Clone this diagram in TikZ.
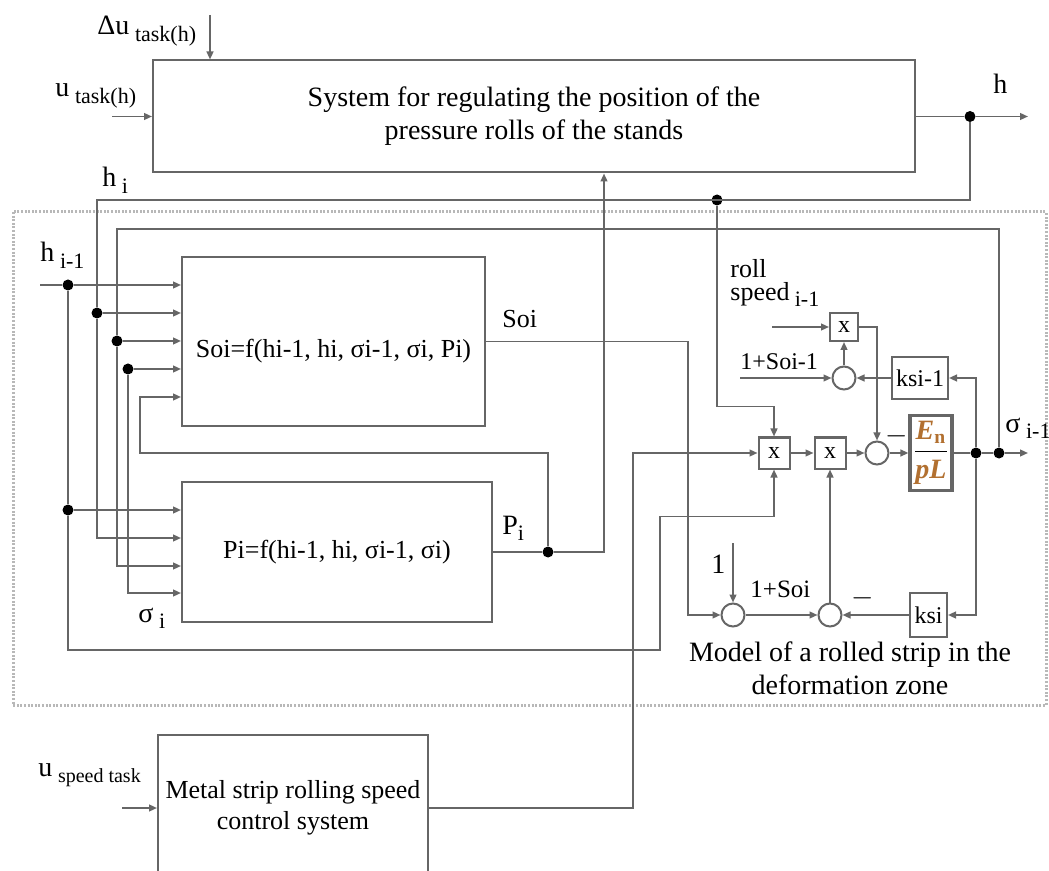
\documentclass[tikz,border=0pt]{standalone}
\usepackage{fontspec}
\setmainfont{Liberation Serif}
\usetikzlibrary{arrows.meta,positioning,calc}
\definecolor{linegray}{gray}{0.40}
\definecolor{framegray}{gray}{0.72}
\definecolor{enbrown}{RGB}{178,112,48}
\newcommand{\lowidx}[1]{\hspace{0.2em}\raisebox{-0.5ex}{\fontsize{11}{12}\selectfont #1}}

\begin{document}
\begin{tikzpicture}[
    x=0.5pt, y=-0.5pt,
    font=\fontsize{14}{16.5}\selectfont,
    line/.style={draw=linegray, line width=0.9pt},
    arrow/.style={line, -{Triangle[length=4pt,width=3.4pt]}},
    block/.style={rectangle, draw=linegray, line width=1pt, fill=white, align=center, inner sep=2pt},
    mult/.style={block, minimum size=15.5pt, inner sep=0pt, font=\fontsize{12}{12}\selectfont},
    gain/.style={block, inner sep=1pt, font=\fontsize{12}{12}\selectfont},
    summer/.style={circle, draw=linegray, line width=1pt, fill=white, minimum size=11.5pt, inner sep=0pt},
    junction/.style={circle, fill=black, minimum size=5.5pt, inner sep=0pt},
    lbl/.style={inner sep=0pt}
]
\useasboundingbox (0,0) rectangle (1049,871);

% Zone of the strip model
\draw[draw=framegray, line width=1.5pt, dash pattern=on 1pt off 0.8pt] (13,212) rectangle (1046,705);

% Blocks
\node[block, minimum width=381pt, minimum height=56pt] (sysh) at (534,116.5)
    {System for regulating the position of the\\pressure rolls of the stands};
\node[block, minimum width=151.5pt, minimum height=84.5pt, text height=19pt, text depth=3pt,
    font=\fontsize{13}{15}\selectfont] (soi) at (333.5,341.5) {Soi=f(hi-1, hi, σi-1, σi, Pi)};
\node[block, minimum width=155pt, minimum height=70pt,
    font=\fontsize{13}{15}\selectfont] (pi) at (337,552) {Pi=f(hi-1, hi, σi-1, σi)};
\node[block, minimum width=135pt, minimum height=73pt,
    font=\fontsize{13}{15.5}\selectfont] (speed) at (293,808) {Metal strip rolling speed\\control system};

% Strip model
\node[mult] (mulA) at (774,453) {x};
\node[mult] (mulB) at (830,453) {x};
\node[mult, minimum size=14pt] (mulC) at (844,327) {x};
\node[summer] (sumA) at (877,453) {};
\node[summer] (sumB) at (844,378) {};
\node[summer] (sumC) at (733,615) {};
\node[summer] (sumD) at (830,615) {};
\node[gain, minimum width=28pt, minimum height=21pt] (ksiA) at (920,378) {ksi-1};
\node[gain, minimum width=18.5pt, minimum height=22pt] (ksiB) at (928.5,615) {ksi};
\node[block, line width=1.6pt, minimum width=21pt, minimum height=37.5pt, inner sep=0pt] (enbox) at (931,453)
    {$\displaystyle\frac{\hbox{\color{enbrown}\bfseries\itshape E\textsubscript{\upshape n}}}{\hbox{\color{enbrown}\bfseries\itshape pL}}$};

% Junctions
\node[junction] (dh) at (970,116.5) {};
\node[junction] (dtop) at (717,200) {};
\node[junction] (dhi) at (97,313) {};
\node[junction] (dsig) at (117,341) {};
\node[junction] (dsigi) at (128,369) {};
\node[junction] (dhprev) at (68,285) {};
\node[junction] (dhprevb) at (68,510) {};
\node[junction] (dpi) at (548,552) {};
\node[junction] (doutA) at (976,453) {};
\node[junction] (doutB) at (999,453) {};

% Free ends and corners
\coordinate (du) at (210,15);
\coordinate (utask) at (112,116.5);
\coordinate (hout) at (1028,116.5);
\coordinate (hprevin) at (40,285);
\coordinate (uspeed) at (122,808);
\coordinate (rollin) at (772,327);
\coordinate (soiprevin) at (740,378);
\coordinate (onein) at (733,543);
\coordinate (sigout) at (1028,453);
\coordinate (hicorner) at (97,200);
\coordinate (sigcorner) at (117,229);
\coordinate (pfb) at (140,453);
\coordinate (soicorner) at (688,615);
\coordinate (spdcorner) at (633,453);
\coordinate (hloop) at (660,650);

% Thickness loop
\draw[arrow] (du) -- (du |- sysh.north);
\draw[arrow] (utask) -- (sysh.west);
\draw[line] (sysh.east) -- (dh);
\draw[arrow] (dh) -- (hout);
\draw[line] (dh) |- (hicorner) -- (dhi);
\draw[arrow] (dhi) -- (soi.west |- dhi);
\draw[arrow] (dhi) |- (pi.west |- 0,538);

% h i-1
\draw[line] (hprevin) -- (dhprev);
\draw[arrow] (dhprev) -- (soi.west |- dhprev);
\draw[line] (dhprev) -- (dhprevb);
\draw[arrow] (dhprevb) -- (pi.west |- dhprevb);
\draw[arrow] (dhprevb) |- (hloop) |- ($(mulA.south)+(0,47)$) -- (mulA.south);

% tension feedback
\draw[line] (doutB) |- (sigcorner) -- (dsig);
\draw[arrow] (dsig) -- (soi.west |- dsig);
\draw[arrow] (dsig) |- (pi.west |- 0,566);
\draw[arrow] (dsigi) -- (soi.west |- dsigi);
\draw[arrow] (dsigi) |- (pi.west |- 0,593);
\draw[arrow] (dpi) |- (pfb) |- (soi.west |- 0,397);

% block outputs
\draw[arrow] (soi.east) -| (soicorner) -- (sumC.west);
\draw[line] (pi.east) -- (dpi);
\draw[arrow] (dpi) -| (sysh.south -| 604,0);
\draw[arrow] (uspeed) -- (speed.west);
\draw[arrow] (speed.east) -| (spdcorner) -- (mulA.west);
\draw[arrow] (dtop) |- ($(mulA.north)+(0,-30)$) -- (mulA.north);

% model chain
\draw[arrow] (mulA) -- (mulB);
\draw[arrow] (mulB) -- (sumA);
\draw[arrow] (sumA) -- (enbox);
\draw[line] (enbox) -- (doutA);
\draw[line] (doutA) -- (doutB);
\draw[arrow] (doutB) -- (sigout);
\draw[arrow] (doutA) |- (ksiA);
\draw[arrow] (doutA) |- (ksiB);
\draw[arrow] (ksiA) -- (sumB);
\draw[arrow] (soiprevin) -- (sumB);
\draw[arrow] (sumB) -- (mulC);
\draw[arrow] (rollin) -- (mulC);
\draw[arrow] (mulC.east) -| (sumA.north);
\draw[arrow] (onein) -- (sumC);
\draw[arrow] (sumC) -- (sumD);
\draw[arrow] (ksiB) -- (sumD);
\draw[arrow] (sumD) -- (mulB);

% Labels
\node[lbl, anchor=base west] (dulbl) at (97,35) {Δu\lowidx{task(h)}};
\node[lbl, anchor=base west] (utlbl) at (55,97) {u\lowidx{task(h)}};
\node[lbl, anchor=base west] (hlbl) at (993,94) {h};
\node[lbl, anchor=base west] (hilbl) at (102,187) {h\lowidx{i}};
\node[lbl, anchor=base west] (hprevlbl) at (40,262) {h\lowidx{i-1}};
\node[lbl, anchor=base west] (sigilbl) at (138,622) {σ\lowidx{i}};
\node[lbl, anchor=base west, font=\fontsize{13}{15}\selectfont] (soilbl) at (502,328) {Soi};
\node[lbl, anchor=base west] (pilbl) at (502,534) {P\raisebox{-0.5ex}{\fontsize{11}{12}\selectfont i}};
\node[lbl, anchor=base west, font=\fontsize{13}{15}\selectfont] (rolllbl) at (730,278) {roll};
\node[lbl, anchor=base west, font=\fontsize{13}{15}\selectfont] (speedlbl) at (730,301) {speed\lowidx{i-1}};
\node[lbl, anchor=base west, font=\fontsize{12}{14}\selectfont] (soiprevlbl) at (740,370) {1+Soi-1};
\node[lbl, anchor=base west] (onelbl) at (711,573) {1};
\node[lbl, anchor=base west, font=\fontsize{12.5}{14}\selectfont] (soiplbl) at (750,597) {1+Soi};
\node[lbl] (minusA) at (897,436) {$-$};
\node[lbl] (minusB) at (863,598) {$-$};
\node[lbl, anchor=base west] (siglbl) at (1005,432) {σ\lowidx{i-1}};
\node[lbl, anchor=base west] (uspeedlbl) at (38,776) {u\hspace{0.2em}\raisebox{-0.5ex}{\fontsize{10}{11}\selectfont speed task}};
\node[lbl, align=center] (modellbl) at (850,668) {Model of a rolled strip in the\\deformation zone};
\end{tikzpicture}
\end{document}
